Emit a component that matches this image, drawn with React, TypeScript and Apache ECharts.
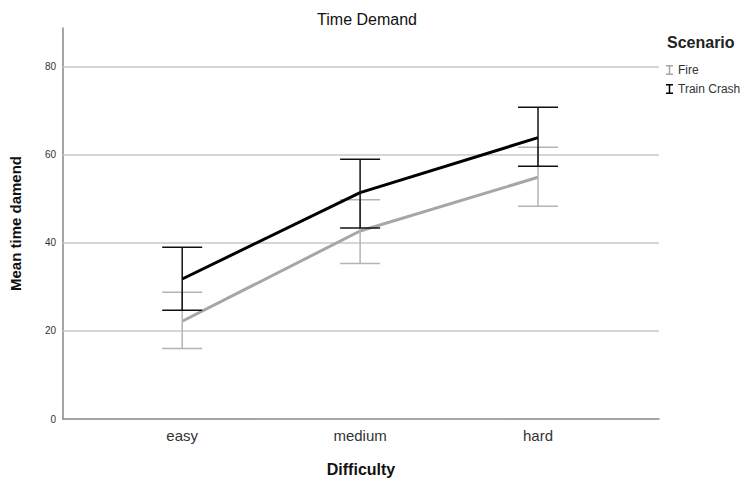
import React, { useEffect, useRef } from "react";
import * as echarts from "echarts";

const categories = ["easy", "medium", "hard"];
const seriesNames = ["Fire", "Train Crash"];
const fireMean = [22.2, 42.7, 54.9];
const fireLow = [16.0, 35.3, 48.3];
const fireHigh = [28.8, 49.8, 61.7];
const crashMean = [31.8, 51.4, 63.9];
const crashLow = [24.7, 43.4, 57.4];
const crashHigh = [39.0, 59.0, 70.8];
const yTicks = [0, 20, 40, 60, 80];
const gridLines = [20, 40, 60, 80];

const IBEAM = "path://M0,0h7v1.5h-2.75v7h2.75v1.5h-7v-1.5h2.75v-7h-2.75z";

function errorSeries(name: string, low: number[], high: number[], color: string) {
  return {
    type: "custom",
    name: name + " err",
    z: name === "Fire" ? 3 : 5,
    data: low.map((l, i) => [i, l, high[i]]),
    renderItem: (params: any, api: any) => {
      const x = api.value(0);
      const lo = api.coord([x, api.value(1)]);
      const hi = api.coord([x, api.value(2)]);
      const hw = 20;
      const style = { stroke: color, lineWidth: 1.5 };
      return {
        type: "group",
        children: [
          { type: "line", shape: { x1: lo[0], y1: lo[1], x2: hi[0], y2: hi[1] }, style },
          { type: "line", shape: { x1: lo[0] - hw, y1: lo[1], x2: lo[0] + hw, y2: lo[1] }, style },
          { type: "line", shape: { x1: hi[0] - hw, y1: hi[1], x2: hi[0] + hw, y2: hi[1] }, style },
        ],
      };
    },
  };
}

export default function App() {
  const ref = useRef<HTMLDivElement>(null);
  useEffect(() => {
    const chart = echarts.init(ref.current!, null, { renderer: "svg" });
    const font = "'Liberation Sans', Arial, sans-serif";
    chart.setOption({
      animation: false,
      textStyle: { fontFamily: font },
      title: {
        text: "Time Demand",
        left: 362,
        textAlign: "center",
        top: 6,
        textStyle: { fontSize: 16, fontWeight: "normal", color: "#111", fontFamily: font },
      },
      legend: {
        orient: "vertical",
        left: 661,
        top: 59,
        itemWidth: 7,
        itemHeight: 10,
        itemGap: 7,
        textStyle: { fontSize: 12, color: "#333", fontFamily: font },
        data: [
          { name: seriesNames[0], icon: IBEAM },
          { name: seriesNames[1], icon: IBEAM },
        ],
      },
      graphic: [
        {
          type: "text",
          left: 667,
          top: 34,
          style: { text: "Scenario", fill: "#222", font: "bold 16px " + font },
        },
      ],
      grid: { left: 62, right: 86, top: 28, bottom: 60 },
      xAxis: {
        type: "value",
        min: -0.67,
        max: 2.68,
        name: "Difficulty",
        nameLocation: "middle",
        nameGap: 42,
        nameTextStyle: { fontSize: 16, fontWeight: "bold", color: "#111" },
        axisLine: { show: true, onZero: false, lineStyle: { color: "#888", width: 1.5 } },
        axisTick: { show: false },
        splitLine: { show: false },
        axisLabel: {
          customValues: [0, 1, 2],
          formatter: (v: number) => categories[Math.round(v)] ?? "",
          fontSize: 15,
          color: "#333",
          margin: 9,
        },
      },
      yAxis: {
        type: "value",
        min: 0,
        max: 88.8,
        name: "Mean time damend",
        nameLocation: "middle",
        nameGap: 40,
        nameTextStyle: { fontSize: 15, fontWeight: "bold", color: "#111" },
        axisLine: { show: true, onZero: false, lineStyle: { color: "#888", width: 1.5 } },
        axisTick: { show: false },
        splitLine: { show: false },
        axisLabel: {
          customValues: yTicks,
          fontSize: 10,
          color: "#333",
          margin: 7,
        },
      },
      series: [
        {
          type: "line",
          name: seriesNames[0],
          data: fireMean.map((v, i) => [i, v]),
          color: "#a6a6a6",
          symbol: "none",
          lineStyle: { width: 3, color: "#a6a6a6" },
          z: 2,
          markLine: {
            silent: true,
            symbol: "none",
            label: { show: false },
            lineStyle: { color: "#c8c8c8", width: 1.5, type: "solid" },
            data: gridLines.map((g) => ({ yAxis: g })),
            z: 1,
          },
        },
        errorSeries(seriesNames[0], fireLow, fireHigh, "#b4b4b4"),
        {
          type: "line",
          name: seriesNames[1],
          data: crashMean.map((v, i) => [i, v]),
          color: "#000",
          symbol: "none",
          lineStyle: { width: 3, color: "#000" },
          z: 4,
        },
        errorSeries(seriesNames[1], crashLow, crashHigh, "#111"),
      ],
    });
    return () => chart.dispose();
  }, []);
  return <div ref={ref} style={{ width: 745, height: 482, position: "absolute", left: 0, top: 0, background: "#fff" }} />;
}
